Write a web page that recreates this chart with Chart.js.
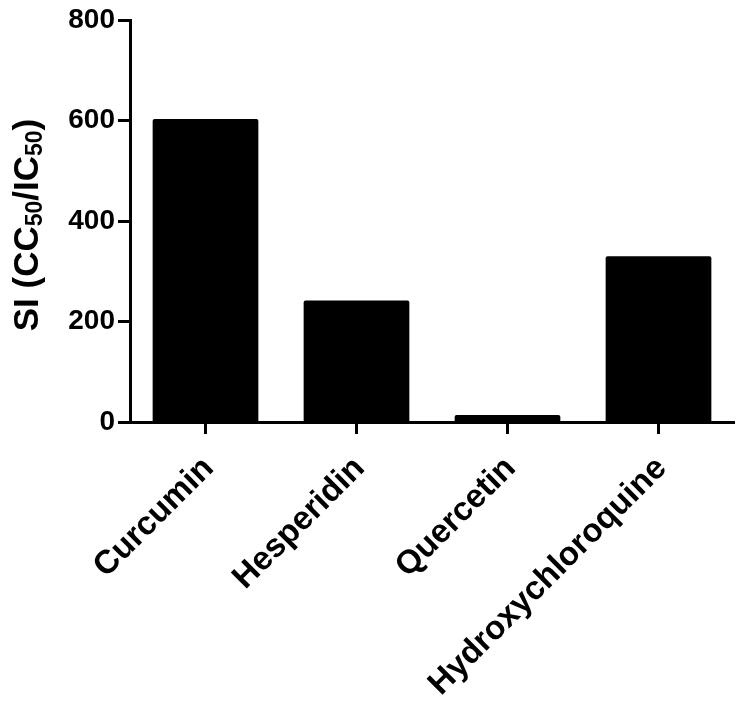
<!DOCTYPE html>
<html>
<head>
<meta charset="utf-8">
<script src="https://cdn.jsdelivr.net/npm/chart.js@4.4.1/dist/chart.umd.min.js"></script>
<style>
  html, body { margin: 0; padding: 0; background: #ffffff; }
  #wrap { width: 746px; height: 714px; position: relative; }
</style>
</head>
<body>
<div id="wrap"><canvas id="c" width="746" height="714"></canvas></div>
<script>
const categories = ["Curcumin", "Hesperidin", "Quercetin", "Hydroxychloroquine"];
const siValues = [603, 242, 14, 330];
const yTicks = [0, 200, 400, 600, 800];
// Axis title pieces: [text, isSubscript]
const yTitleParts = [["SI (CC", false], ["50", true], ["/IC", false], ["50", true], [")", false]];

const FONT = "'Liberation Sans', Arial, Helvetica, sans-serif";

const yTitlePlugin = {
  id: 'yTitleSub',
  afterDraw(chart) {
    const ctx = chart.ctx;
    const area = chart.chartArea;
    const mainFont = "bold 35px " + FONT;
    const subFont = "bold 23px " + FONT;
    ctx.save();
    ctx.fillStyle = '#000';
    ctx.textBaseline = 'alphabetic';
    ctx.textAlign = 'left';
    let total = 0;
    const widths = yTitleParts.map(([t, sub]) => {
      ctx.font = sub ? subFont : mainFont;
      const w = ctx.measureText(t).width;
      total += w;
      return w;
    });
    const cy = (area.top + area.bottom) / 2 + 4;
    ctx.translate(25, cy);
    ctx.rotate(-Math.PI / 2);
    let x = -total / 2;
    yTitleParts.forEach(([t, sub], i) => {
      ctx.font = sub ? subFont : mainFont;
      ctx.fillText(t, x, sub ? 17 : 13);
      x += widths[i];
    });
    ctx.restore();
  }
};

new Chart(document.getElementById('c'), {
  type: 'bar',
  data: {
    labels: categories,
    datasets: [{
      data: siValues,
      backgroundColor: '#000000',
      borderColor: '#000000',
      borderWidth: 0,
      borderRadius: 2,
      borderSkipped: 'bottom',
      barPercentage: 0.7,
      categoryPercentage: 1.0
    }]
  },
  plugins: [yTitlePlugin],
  options: {
    responsive: false,
    animation: false,
    devicePixelRatio: 1,
    layout: { padding: { top: 20, right: 12, left: 0, bottom: 0 } },
    plugins: { legend: { display: false }, tooltip: { enabled: false } },
    scales: {
      x: {
        grid: { drawOnChartArea: false, drawTicks: true, tickLength: 12, tickWidth: 3, tickColor: '#000', offset: false },
        border: { display: true, color: '#000', width: 3 },
        ticks: {
          color: '#000',
          font: { family: FONT, size: 33, weight: 'bold' },
          minRotation: 45, maxRotation: 45,
          padding: 15,
          labelOffset: 3,
          autoSkip: false
        },
        afterFit: (s) => { s.height = 292; }
      },
      y: {
        min: 0, max: 800,
        afterBuildTicks: (s) => { s.ticks = yTicks.map(v => ({ value: v })); },
        grid: { drawOnChartArea: false, drawTicks: true, tickLength: 12, tickWidth: 3, tickColor: '#000' },
        border: { display: true, color: '#000', width: 3 },
        ticks: {
          color: '#000',
          font: { family: FONT, size: 28, weight: 'bold' },
          padding: 3
        },
        afterFit: (s) => { s.width = 130; }
      }
    }
  }
});
</script>
</body>
</html>
